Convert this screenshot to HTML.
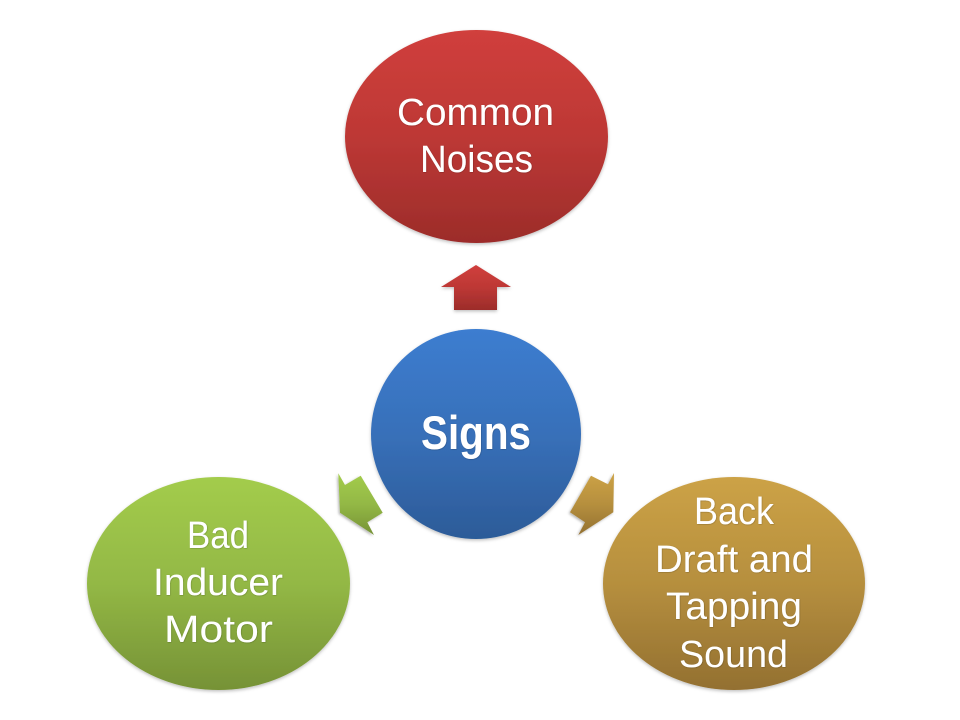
<!DOCTYPE html>
<html>
<head>
<meta charset="utf-8">
<style>
html,body{margin:0;padding:0;background:#fff;width:960px;height:720px;overflow:hidden}
svg{display:block}
text{font-family:"Liberation Sans",sans-serif;fill:#fff;font-size:38px}
</style>
</head>
<body>
<svg width="960" height="720" viewBox="0 0 960 720" xmlns="http://www.w3.org/2000/svg">
<defs>
<linearGradient id="r" x1="0" y1="0" x2="0" y2="1"><stop offset="0" stop-color="#d03f3c"/><stop offset=".5" stop-color="#bd3835"/><stop offset="1" stop-color="#9c2c2a"/></linearGradient>
<linearGradient id="b" x1="0" y1="0" x2="0" y2="1"><stop offset="0" stop-color="#3c7dd0"/><stop offset=".5" stop-color="#3870b9"/><stop offset="1" stop-color="#2c5b98"/></linearGradient>
<linearGradient id="g" x1="0" y1="0" x2="0" y2="1"><stop offset="0" stop-color="#a3cc4c"/><stop offset=".5" stop-color="#93b845"/><stop offset="1" stop-color="#769236"/></linearGradient>
<linearGradient id="o" x1="0" y1="0" x2="0" y2="1"><stop offset="0" stop-color="#cca246"/><stop offset=".5" stop-color="#b68f3e"/><stop offset="1" stop-color="#937031"/></linearGradient>
<filter id="s" x="-10%" y="-10%" width="120%" height="125%"><feDropShadow dx="0" dy="1.5" stdDeviation="1.5" flood-color="#000" flood-opacity=".25"/></filter>
<filter id="sg" x="-20%" y="-20%" width="140%" height="140%"><feDropShadow dx="-1.2" dy="1.2" stdDeviation="1.2" flood-color="#000" flood-opacity=".3"/></filter>
<filter id="t" x="-10%" y="-20%" width="120%" height="140%"><feDropShadow dx="0.4" dy="0.4" stdDeviation="0.4" flood-color="#000" flood-opacity=".3"/></filter>
</defs>

<ellipse cx="476.5" cy="136.5" rx="131.5" ry="106.5" fill="url(#r)" filter="url(#s)"/>
<polygon points="476,265 511,287 497,287 497,310 454,310 454,287 441,287" fill="url(#r)" filter="url(#s)"/>
<circle cx="476" cy="434" r="105" fill="url(#b)" filter="url(#s)"/>
<polygon points="338.3,473.3 345,485 360.7,475.7 382.7,512.7 367.3,522.3 374,535 340,512.7" fill="url(#g)" filter="url(#sg)"/>
<polygon points="614,473 608,484.3 591,475.7 570,512.3 585,522.3 578.3,535 613.3,512.3" fill="url(#o)" filter="url(#sg)"/>
<ellipse cx="218.5" cy="583.5" rx="131.5" ry="106.5" fill="url(#g)" filter="url(#s)"/>
<ellipse cx="734" cy="583.5" rx="131" ry="106.5" fill="url(#o)" filter="url(#s)"/>

<g filter="url(#t)">
<text x="397" y="125" textLength="157" lengthAdjust="spacingAndGlyphs">Common</text>
<text x="420" y="172" textLength="113" lengthAdjust="spacingAndGlyphs">Noises</text>
<text x="421" y="449" style="font-size:47px;font-weight:bold" textLength="110" lengthAdjust="spacingAndGlyphs">Signs</text>
<text x="187" y="548" textLength="62" lengthAdjust="spacingAndGlyphs">Bad</text>
<text x="153" y="595" textLength="130" lengthAdjust="spacingAndGlyphs">Inducer</text>
<text x="164" y="642" textLength="109" lengthAdjust="spacingAndGlyphs">Motor</text>
<text x="694" y="524" textLength="80" lengthAdjust="spacingAndGlyphs">Back</text>
<text x="655" y="572" textLength="158" lengthAdjust="spacingAndGlyphs">Draft and</text>
<text x="666" y="619" textLength="136" lengthAdjust="spacingAndGlyphs">Tapping</text>
<text x="679" y="667" textLength="109" lengthAdjust="spacingAndGlyphs">Sound</text>
</g>
</svg>
</body>
</html>
